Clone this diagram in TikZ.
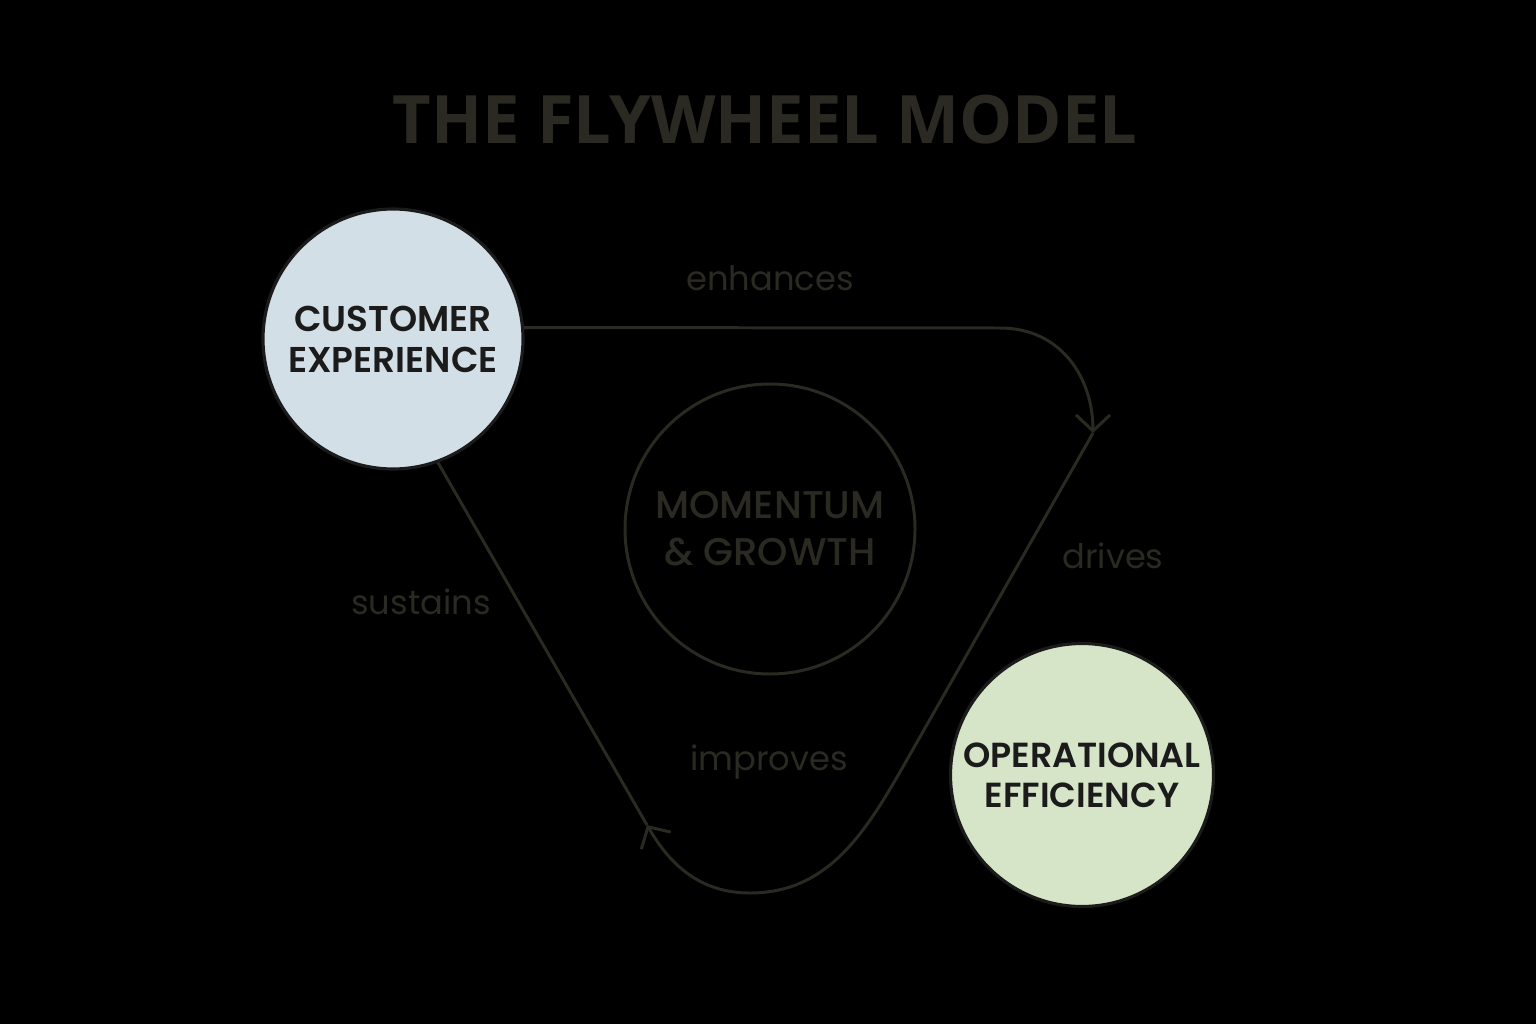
\documentclass[tikz,border=0pt]{standalone}
\usepackage{fontspec}
\setmainfont{Poppins}
\newfontfamily\titlefont{Open Sans}
\newfontfamily\circfont{Poppins SemiBold}
\newfontfamily\midfont{Poppins Medium}
\usetikzlibrary{arrows.meta}
\definecolor{ink}{HTML}{2A2A23}
\definecolor{dark}{HTML}{1B1B1B}
\definecolor{cefill}{HTML}{D3DFE6}
\definecolor{oefill}{HTML}{D6E5C8}

\begin{document}
\begin{tikzpicture}[
  hub/.style={circle, draw=dark, line width=0.9pt, minimum size=2.6cm, inner sep=0pt,
    align=center, text=dark, font=\circfont\fontsize{10.2}{11.7}\selectfont},
  flow/.style={draw=ink, line width=0.85pt},
  tip/.style={-{Straight Barb[length=1.6mm,width=3.4mm,line width=0.85pt]}},
  lbl/.style={text=ink, font=\fontsize{9.6}{11}\selectfont}]
\fill[black] (0,0) rectangle (15.36,10.24);
\useasboundingbox (0,0) rectangle (15.36,10.24);
\node[text=ink, font=\titlefont\bfseries\fontsize{19}{20}\selectfont] (title) at (7.65,9.04) {THE FLYWHEEL MODEL};
\node[hub, fill=cefill] (ce) at (3.93,6.85) {CUSTOMER\\EXPERIENCE};
\node[hub, fill=oefill, minimum size=2.63cm, font=\circfont\fontsize{9.9}{11.3}\selectfont] (oe) at (10.82,2.49) {OPERATIONAL\\EFFICIENCY};
\node[circle, draw=ink, line width=0.85pt, minimum size=2.9cm, inner sep=0pt, align=center,
  text=ink, font=\midfont\fontsize{11}{13.4}\selectfont] (mg) at (7.70,4.95) {MOMENTUM\\\& GROWTH};
\coordinate (tipA) at (10.93,5.91);
\coordinate (tipB) at (6.47,1.99);
% the loop
\draw[flow, tip] (ce.5) -- (10.00,6.96) .. controls (10.62,6.96) and (10.93,6.45) .. (tipA);
\draw[flow, tip] (tipA) -- (9.00,2.52) to[out=240,in=0] (7.50,1.31) to[out=180,in=300] (tipB);
\draw[flow] (tipB) -- (ce.-70);
\node[lbl] (enh) at (7.70,7.46) {enhances};
\node[lbl] (drv) at (11.13,4.68) {drives};
\node[lbl] (imp) at (7.69,2.62) {improves};
\node[lbl] (sus) at (4.21,4.22) {sustains};
\end{tikzpicture}
\end{document}
